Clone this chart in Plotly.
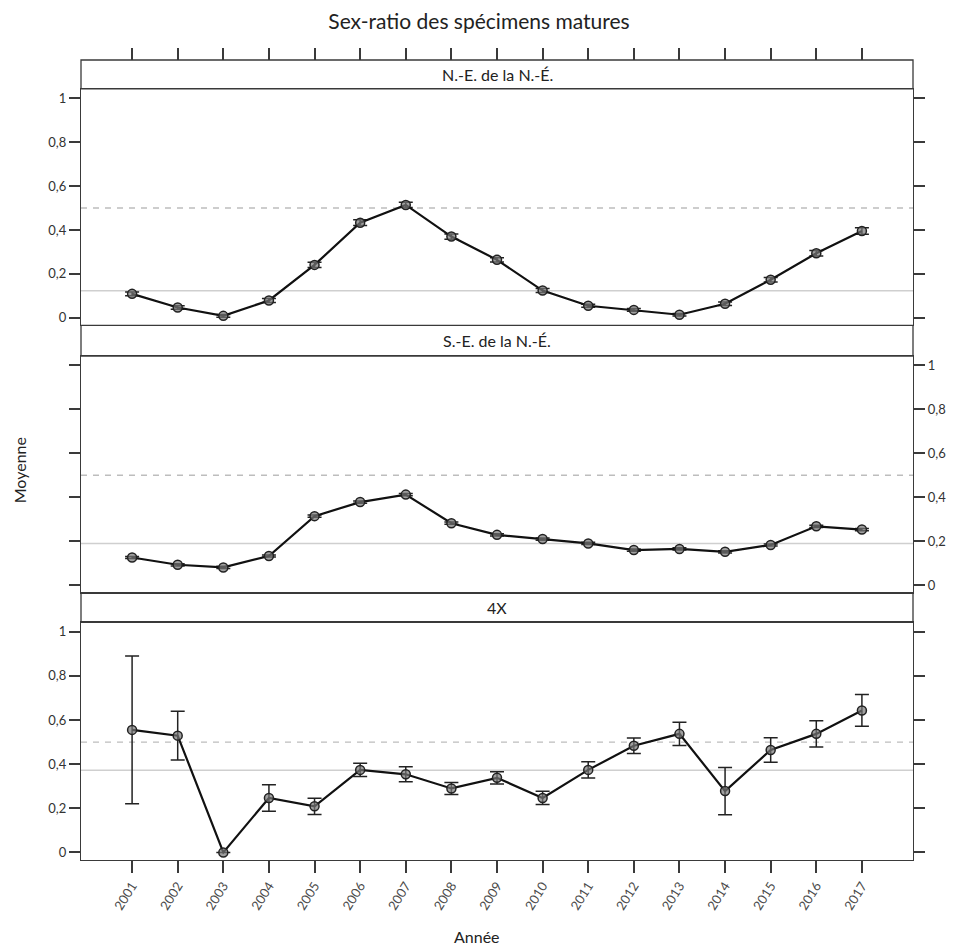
import plotly.graph_objects as go

# Années d'échantillonnage
years = list(range(2001, 2018))
year_labels = [str(y) for y in years]

# Moyenne du sex-ratio (femelles matures) et erreur-type par région
ne_mean = [0.109, 0.047, 0.009, 0.079, 0.241, 0.433, 0.514, 0.370, 0.264,
           0.124, 0.055, 0.036, 0.014, 0.064, 0.173, 0.294, 0.395]
ne_err = [0.008, 0.008, 0.006, 0.009, 0.012, 0.013, 0.012, 0.012, 0.010,
          0.009, 0.007, 0.006, 0.006, 0.008, 0.010, 0.012, 0.015]

se_mean = [0.126, 0.093, 0.081, 0.133, 0.314, 0.378, 0.412, 0.282, 0.229,
           0.210, 0.190, 0.160, 0.165, 0.152, 0.183, 0.268, 0.253]
se_err = [0.005] * 17

x4_mean = [0.555, 0.529, 0.000, 0.247, 0.209, 0.374, 0.354, 0.290, 0.338,
           0.247, 0.374, 0.483, 0.537, 0.278, 0.464, 0.537, 0.643]
x4_err = [0.334, 0.110, 0.000, 0.060, 0.037, 0.030, 0.034, 0.027, 0.028,
          0.030, 0.037, 0.035, 0.053, 0.107, 0.055, 0.059, 0.072]

panel_names = ["N.-E. de la N.-É.", "S.-E. de la N.-É.", "4X"]
panel_means = [0.123, 0.190, 0.372]   # moyenne de la série (ligne grise)
reference_ratio = 0.5                 # ligne pointillée

y_ticks = [0, 0.2, 0.4, 0.6, 0.8, 1]
y_tick_text = ["0", "0,2", "0,4", "0,6", "0,8", "1"]

FONT = "Lato"
FRAME = "#3a3a3a"
X_RANGE = [1999.88, 2018.12]
Y_RANGE = [-0.034, 1.042]

# domaines verticaux: (zone de tracé, bandeau de titre) pour chaque panneau
plot_domains = [[0.6684, 0.9638], [0.3341, 0.6300], [0.0, 0.2971]]
strip_domains = [[0.9638, 1.0], [0.6300, 0.6684], [0.2971, 0.3341]]

series = [(ne_mean, ne_err), (se_mean, se_err), (x4_mean, x4_err)]

fig = go.Figure()

for i, (mean, err) in enumerate(series):
    xa = "x" if i == 0 else f"x{i + 1}"
    ya = "y" if i == 0 else f"y{i + 1}"
    # ligne de référence 0,5 et moyenne de la série
    fig.add_trace(go.Scatter(
        x=X_RANGE, y=[reference_ratio] * 2, mode="lines",
        line=dict(color="#bdbdbd", width=1.3, dash="6px,6px"),
        xaxis=xa, yaxis=ya, hoverinfo="skip", showlegend=False))
    fig.add_trace(go.Scatter(
        x=X_RANGE, y=[panel_means[i]] * 2, mode="lines",
        line=dict(color="#cfcfcf", width=1.6),
        xaxis=xa, yaxis=ya, hoverinfo="skip", showlegend=False))
    fig.add_trace(go.Scatter(
        x=years, y=mean, mode="lines+markers",
        line=dict(color="#111111", width=2.2),
        marker=dict(size=9, color="rgba(120,120,120,0.7)",
                    line=dict(color="#222222", width=1.5)),
        error_y=dict(type="data", array=err, visible=True,
                     color="#222222", thickness=1.5, width=7),
        cliponaxis=False,
        xaxis=xa, yaxis=ya, showlegend=False))

# axe supplémentaire pour les graduations au-dessus du premier bandeau
fig.add_trace(go.Scatter(x=[years[0]], y=[None], mode="markers",
                         xaxis="x4", yaxis="y", showlegend=False,
                         hoverinfo="skip"))

common_x = dict(range=X_RANGE, showgrid=False, zeroline=False,
                showline=True, mirror=True, linecolor=FRAME, linewidth=1.3,
                tickvals=years, ticktext=year_labels)
common_y = dict(range=Y_RANGE, showgrid=False, zeroline=False,
                showline=True, mirror="ticks", linecolor=FRAME, linewidth=1.3,
                ticks="outside", ticklen=11, tickwidth=1.5, tickcolor=FRAME,
                tickvals=y_ticks, ticktext=y_tick_text,
                tickfont=dict(family=FONT, size=13, color="#333333"))

fig.update_layout(
    xaxis=dict(**common_x, anchor="y", ticks="", showticklabels=False),
    xaxis2=dict(**common_x, anchor="y2", ticks="", showticklabels=False),
    xaxis3=dict(**common_x, anchor="y3", ticks="outside", ticklen=12,
                tickwidth=1.5, tickcolor=FRAME, tickangle=-58,
                tickfont=dict(family=FONT, size=13, color="#4a4a4a")),
    xaxis4=dict(range=X_RANGE, overlaying="x", anchor="free", position=1.0,
                side="top", showgrid=False, zeroline=False, showline=False,
                tickvals=years, ticks="outside", ticklen=12, tickwidth=1.5,
                tickcolor=FRAME, showticklabels=False),
    yaxis=dict(**common_y, domain=plot_domains[0], anchor="x", side="left"),
    yaxis2=dict(**common_y, domain=plot_domains[1], anchor="x2", side="right"),
    yaxis3=dict(**common_y, domain=plot_domains[2], anchor="x3", side="left"),
)

shapes = []
annotations = []
for name, (y0, y1) in zip(panel_names, strip_domains):
    shapes.append(dict(type="rect", xref="paper", yref="paper",
                       x0=0, x1=1, y0=y0, y1=y1,
                       line=dict(color=FRAME, width=1.3),
                       fillcolor="rgba(0,0,0,0)", layer="above"))
    annotations.append(dict(text=name, xref="paper", yref="paper",
                            x=0.5, y=(y0 + y1) / 2, showarrow=False,
                            xanchor="center", yanchor="middle",
                            font=dict(family=FONT, size=16, color="#222222")))

annotations.append(dict(text="Moyenne", xref="paper", yref="paper",
                        x=-0.073, y=0.4875, textangle=-90, showarrow=False,
                        xanchor="center", yanchor="middle",
                        font=dict(family=FONT, size=16, color="#222222")))
annotations.append(dict(text="Année", xref="paper", yref="paper",
                        x=0.476, y=-0.096, showarrow=False,
                        xanchor="center", yanchor="middle",
                        font=dict(family=FONT, size=16, color="#222222")))

fig.update_layout(
    width=958, height=949,
    margin=dict(l=81, r=41, t=60, b=89),
    paper_bgcolor="white", plot_bgcolor="white",
    title=dict(text="Sex-ratio des spécimens matures", xref="container",
               x=0.5, y=0.977, xanchor="center", yanchor="middle",
               font=dict(family=FONT, size=21, color="#222222")),
    shapes=shapes, annotations=annotations,
    font=dict(family=FONT),
)

fig.write_html("out.html")
